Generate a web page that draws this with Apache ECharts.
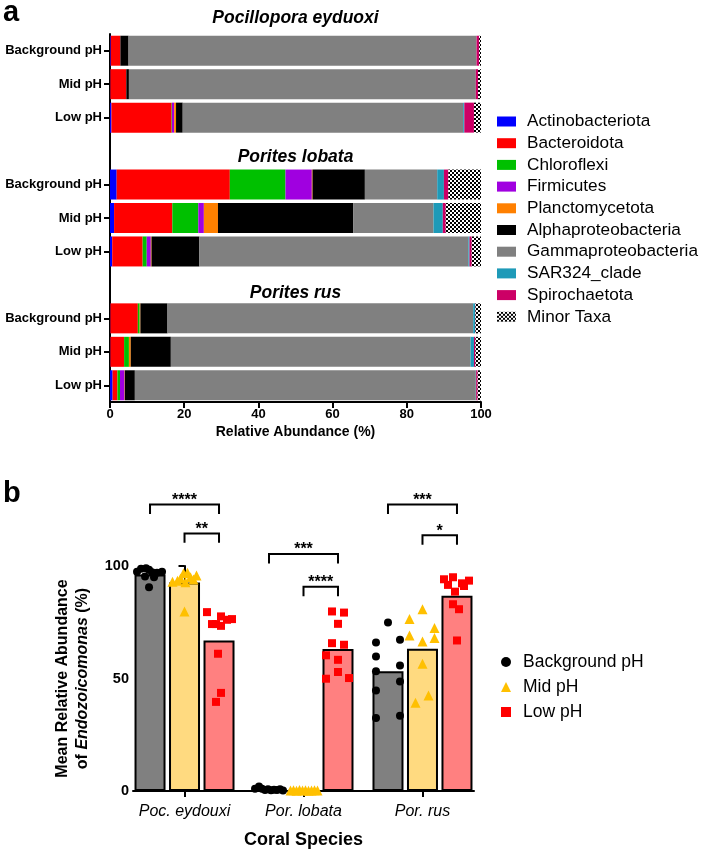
<!DOCTYPE html>
<html><head><meta charset="utf-8">
<script src="https://cdn.jsdelivr.net/npm/echarts@6/dist/echarts.min.js"></script>
<style>html,body{margin:0;padding:0;background:#fff}#c{width:703px;height:850px}</style>
</head><body><div id="c"></div>
<script>
// ---------------- Panel a data ----------------
const rowLabels = ['Background pH','Mid pH','Low pH','','Background pH','Mid pH','Low pH','','Background pH','Mid pH','Low pH'];
const speciesTitles = ['Pocillopora eyduoxi','Porites lobata','Porites rus'];
const taxa = ['Actinobacteriota','Bacteroidota','Chloroflexi','Firmicutes','Planctomycetota','Alphaproteobacteria','Gammaproteobacteria','SAR324_clade','Spirochaetota','Minor Taxa'];
// samples order: Poc BG, Poc Mid, Poc Low, Lob BG, Lob Mid, Lob Low, Rus BG, Rus Mid, Rus Low
const actinobacteriota    = [0.2, 0.1, 0.4, 1.8, 1.1, 0.6, 0.1, 0.1, 0.7];
const bacteroidota        = [2.6, 4.3, 16.2, 30.5, 15.7, 8.2, 7.4, 3.7, 1.3];
const chloroflexi         = [0, 0, 0.1, 15.0, 7.0, 1.1, 0.5, 1.3, 0.7];
const firmicutes          = [0, 0, 0.6, 7.1, 1.5, 1.1, 0, 0, 1.2];
const planctomycetota     = [0, 0, 0.5, 0.2, 3.8, 0.2, 0.2, 0.5, 0.1];
const alphaproteobacteria = [2.2, 0.7, 1.8, 14.1, 36.5, 12.9, 7.3, 10.8, 2.7];
const gammaproteobacteria = [93.8, 93.5, 75.6, 19.5, 21.6, 72.5, 82.4, 80.8, 91.9];
const sar324Clade         = [0, 0, 0.3, 1.8, 2.5, 0.3, 0.5, 0.9, 0.1];
const spirochaetota       = [0.7, 0.6, 2.6, 1.2, 0.8, 0.6, 0.1, 0.4, 0.4];
const minorTaxa           = [0.5, 0.8, 1.9, 8.8, 9.5, 2.5, 1.5, 1.5, 0.9];
const taxaValues = [actinobacteriota, bacteroidota, chloroflexi, firmicutes, planctomycetota, alphaproteobacteria, gammaproteobacteria, sar324Clade, spirochaetota, minorTaxa];
const xTicksA = [0, 20, 40, 60, 80, 100];

// ---------------- Panel b data ----------------
const speciesShort = ['Poc. eydouxi', 'Por. lobata', 'Por. rus'];
const phLevels = ['Background pH', 'Mid pH', 'Low pH'];
const bgMeans  = [96.2, 0.5, 53.2];
const midMeans = [92.7, 0.2, 63.2];
const lowMeans = [66.9, 63.1, 86.8];
// individual samples (value) and horizontal jitter (px)
const bgValues = [
  [97.5, 98.8, 99.0, 98.3, 97.2, 97.0, 97.5, 95.3, 95.0, 90.6],
  [1.0, 2.0, 1.0, 0.5, 0.8, 0.3, 0.6, 0.4, 0.8, 0.2],
  [74.9, 66.0, 67.2, 59.8, 53.2, 55.8, 48.7, 44.7, 32.5, 33.5]
];
const bgJitter = [
  [-13, -9, -4, -1, 2, 7, 12, -5, 4, -1],
  [-14, -10, -7, -4, -1, 2, 5, 8, 11, 14],
  [0, -12, 12, -12, -12, 12, 12, -12, -12, 12]
];
const midValues = [
  [93.0, 93.5, 94.5, 96.8, 97.0, 95.0, 94.0, 95.8, 92.8, 79.8],
  [0.2, 0.3, 0.1, 0.4, 0.2, 0.3, 0.1, 0.2, 0.3, 0.2],
  [80.8, 76.4, 72.4, 69.1, 66.5, 68.0, 56.6, 42.4, 39.2]
];
const midJitter = [
  [-12, -7, -4, -1, 3, 6, 9, 12, 1, 0],
  [-13, -10, -7, -4, -1, 2, 5, 8, 11, 14],
  [0, -13, 12, -13, 0, 12, 0, 6, -7]
];
const lowValues = [
  [79.5, 74.2, 77.6, 73.4, 76.1, 76.4, 74.2, 61.0, 43.6, 39.6],
  [79.8, 79.3, 74.3, 65.7, 65.0, 60.3, 58.3, 52.9, 49.9, 50.2],
  [94.1, 95.0, 92.3, 93.5, 91.6, 88.6, 91.1, 83.0, 80.8, 66.9]
];
const lowJitter = [
  [-12, -7, 2, 2, 8, 13, -3, -1, 2, -3],
  [-6, 6, 0, -6, 6, -12, 0, 0, -12, 11],
  [-13, -4, 5, 12, -9, -2, 7, -4, 2, 0]
];
// significance brackets: [species index, from pH index, to pH index, height, label]
const brackets = [
  [0, 0, 2, 127.3, '****'],
  [0, 1, 2, 114.5, '**'],
  [1, 0, 2, 105.3, '***'],
  [1, 1, 2, 90.8, '****'],
  [2, 0, 2, 127.3, '***'],
  [2, 1, 2, 113.7, '*']
];

// ---------------- styling / layout ----------------
const FONT = 'Liberation Sans, Arial, sans-serif';
const taxaColors = ['#0000FF','#FF0000','#00C000','#A000E0','#FF8000','#000000','#808080','#1E9AB8','#CC0066', null];
const pc = document.createElement('canvas'); pc.width = 4; pc.height = 4;
const ctx = pc.getContext('2d');
ctx.fillStyle = '#fff'; ctx.fillRect(0, 0, 4, 4);
ctx.fillStyle = '#000'; ctx.fillRect(0, 0, 2, 2); ctx.fillRect(2, 2, 2, 2);
taxaColors[9] = { image: pc, repeat: 'repeat' };

const PX_PER_UNIT = 119;            // pixels per species slot in panel b
const barOffsets = [-34.5 / PX_PER_UNIT, 0, 34.5 / PX_PER_UNIT];
const barFill = ['#808080', '#FFDA80', '#FF8080'];
const pointColor = ['#000000', '#FFC000', '#FF0000'];
const pointSymbol = ['circle', 'triangle', 'rect'];
const pointSize = [8, 10, 8];

function expandRows(arr) {
  const out = [];
  let k = 0;
  rowLabels.forEach((l) => { out.push(l === '' ? null : arr[k++]); });
  return out;
}

const seriesA = taxa.map((name, t) => ({
  name: name, type: 'bar', stack: 'a', xAxisIndex: 0, yAxisIndex: 0,
  barWidth: 30, itemStyle: { color: taxaColors[t] },
  data: expandRows(taxaValues[t]), animation: false
}));

const barData = [];
[bgMeans, midMeans, lowMeans].forEach((means, k) => {
  means.forEach((v, g) => barData.push({ value: [g + barOffsets[k], v], itemStyle: { color: barFill[k] } }));
});

function pointsFor(values, jitter, k) {
  const d = [];
  values.forEach((vals, g) => vals.forEach((v, i) => d.push([g + barOffsets[k] + jitter[g][i] / PX_PER_UNIT, v])));
  return d;
}
const pointSets = [pointsFor(bgValues, bgJitter, 0), pointsFor(midValues, midJitter, 1), pointsFor(lowValues, lowJitter, 2)];

const seriesB = [{
  name: 'means', type: 'bar', xAxisIndex: 1, yAxisIndex: 1, barWidth: 31,
  itemStyle: { borderColor: '#000', borderWidth: 2 }, data: barData, animation: false, z: 2
}].concat(phLevels.map((name, k) => ({
  name: name, type: 'scatter', xAxisIndex: 1, yAxisIndex: 1,
  symbol: pointSymbol[k], symbolSize: pointSize[k],
  itemStyle: { color: pointColor[k], opacity: 1 }, data: pointSets[k], animation: false, z: 3
}))).concat([{
  type: 'custom', xAxisIndex: 1, yAxisIndex: 1, clip: false, z: 4, animation: false,
  data: brackets.map(b => [b[0], b[1], b[2], b[3]]),
  renderItem: function (params, api) {
    const g = api.value(0), a = api.value(1), b = api.value(2), h = api.value(3);
    const p1 = api.coord([g + barOffsets[a], h]);
    const p2 = api.coord([g + barOffsets[b], h]);
    const leg = api.size([0, 4.2])[1];
    return {
      type: 'group', children: [
        { type: 'polyline', shape: { points: [[p1[0], p1[1] + leg], [p1[0], p1[1]], [p2[0], p2[1]], [p2[0], p2[1] + leg]] },
          style: { stroke: '#000', lineWidth: 2, fill: null } },
        { type: 'text', x: (p1[0] + p2[0]) / 2, y: p1[1] - 4,
          style: { text: brackets[params.dataIndex][4], fill: '#000', font: 'bold 16px ' + FONT, textAlign: 'center', textVerticalAlign: 'middle' } }
      ]
    };
  }
}]);

const chart = echarts.init(document.getElementById('c'), null, { renderer: 'canvas' });
chart.setOption({
  animation: false,
  backgroundColor: '#fff',
  textStyle: { fontFamily: FONT },
  graphic: [
    { type: 'text', left: 3, top: -2, style: { text: 'a', font: 'bold 29px ' + FONT, fill: '#000' } },
    { type: 'text', left: 3, top: 479, style: { text: 'b', font: 'bold 29px ' + FONT, fill: '#000' } },
    { type: 'text', x: 295.5, y: 18, style: { text: speciesTitles[0], font: 'italic bold 17.5px ' + FONT, fill: '#000', textAlign: 'center', textVerticalAlign: 'middle' } },
    { type: 'text', x: 295.5, y: 157, style: { text: speciesTitles[1], font: 'italic bold 17.5px ' + FONT, fill: '#000', textAlign: 'center', textVerticalAlign: 'middle' } },
    { type: 'text', x: 295.5, y: 293, style: { text: speciesTitles[2], font: 'italic bold 17.5px ' + FONT, fill: '#000', textAlign: 'center', textVerticalAlign: 'middle' } }
  ],
  legend: [{
    data: taxa, orient: 'vertical', left: 492, top: 108, icon: 'rect', itemWidth: 19, itemHeight: 10, itemGap: 4.7,
    textStyle: { fontSize: 17.2, lineHeight: 17, color: '#000', fontFamily: FONT, padding: [0, 0, 0, 6] }, selectedMode: false
  }, {
    data: phLevels, orient: 'vertical', left: 496, top: 648, itemWidth: 10, itemHeight: 10, itemGap: 7,
    textStyle: { fontSize: 17.5, lineHeight: 18, color: '#000', fontFamily: FONT, padding: [0, 0, 0, 7] }, selectedMode: false
  }],
  grid: [
    { left: 110, right: 222, top: 34, height: 368 },
    { left: 133, right: 229, top: 566, height: 226 }
  ],
  xAxis: [{
    gridIndex: 0, type: 'value', min: 0, max: 100, interval: 20,
    axisLine: { show: true, lineStyle: { color: '#000', width: 2 } },
    axisTick: { show: true, length: 6, lineStyle: { color: '#000', width: 2 } },
    axisLabel: { color: '#000', fontWeight: 'bold', fontSize: 13, margin: 6, customValues: xTicksA },
    splitLine: { show: false },
    name: 'Relative Abundance (%)', nameLocation: 'middle', nameGap: 23,
    nameTextStyle: { color: '#000', fontWeight: 'bold', fontSize: 14 }
  }, {
    gridIndex: 1, type: 'value', min: -0.433, max: 2.433,
    axisLine: { show: true, onZero: false, lineStyle: { color: '#000', width: 2 } },
    axisTick: { show: true, length: 6, customValues: [0, 1, 2], lineStyle: { color: '#000', width: 2 } },
    axisLabel: { color: '#000', fontStyle: 'italic', fontSize: 16, margin: 13, customValues: [0, 1, 2],
      formatter: v => speciesShort[Math.round(v)] },
    splitLine: { show: false },
    name: 'Coral Species', nameLocation: 'middle', nameGap: 40,
    nameTextStyle: { color: '#000', fontWeight: 'bold', fontSize: 18 }
  }],
  yAxis: [{
    gridIndex: 0, type: 'category', inverse: true,
    data: rowLabels.map((l, i) => 'row' + i),
    axisLine: { show: true, lineStyle: { color: '#000', width: 2 } },
    axisTick: { show: true, length: 6, alignWithLabel: true, interval: (i) => rowLabels[i] !== '', lineStyle: { color: '#000', width: 2 } },
    axisLabel: { interval: 0, color: '#000', fontWeight: 'bold', fontSize: 13, margin: 8, formatter: (v, i) => rowLabels[i] }
  }, {
    gridIndex: 1, type: 'value', min: 0, max: 100, interval: 25,
    axisLine: { show: true, lineStyle: { color: '#000', width: 2 } },
    axisTick: { show: true, length: 6, lineStyle: { color: '#000', width: 2 } },
    axisLabel: { color: '#000', fontWeight: 'bold', fontSize: 14.5, margin: 4, formatter: v => (v % 50 === 0 ? String(v) : '') },
    splitLine: { show: false },
    name: '{b|Mean Relative Abundance}\n{b|of }{i|Endozoicomonas}{b| (%)}',
    nameLocation: 'middle', nameGap: 40,
    nameTextStyle: { color: '#000', lineHeight: 20,
      rich: { b: { fontWeight: 'bold', fontSize: 16, lineHeight: 20, fontFamily: FONT },
              i: { fontWeight: 'bold', fontStyle: 'italic', fontSize: 16, lineHeight: 20, fontFamily: FONT } } }
  }],
  series: seriesA.concat(seriesB)
});
</script></body></html>
